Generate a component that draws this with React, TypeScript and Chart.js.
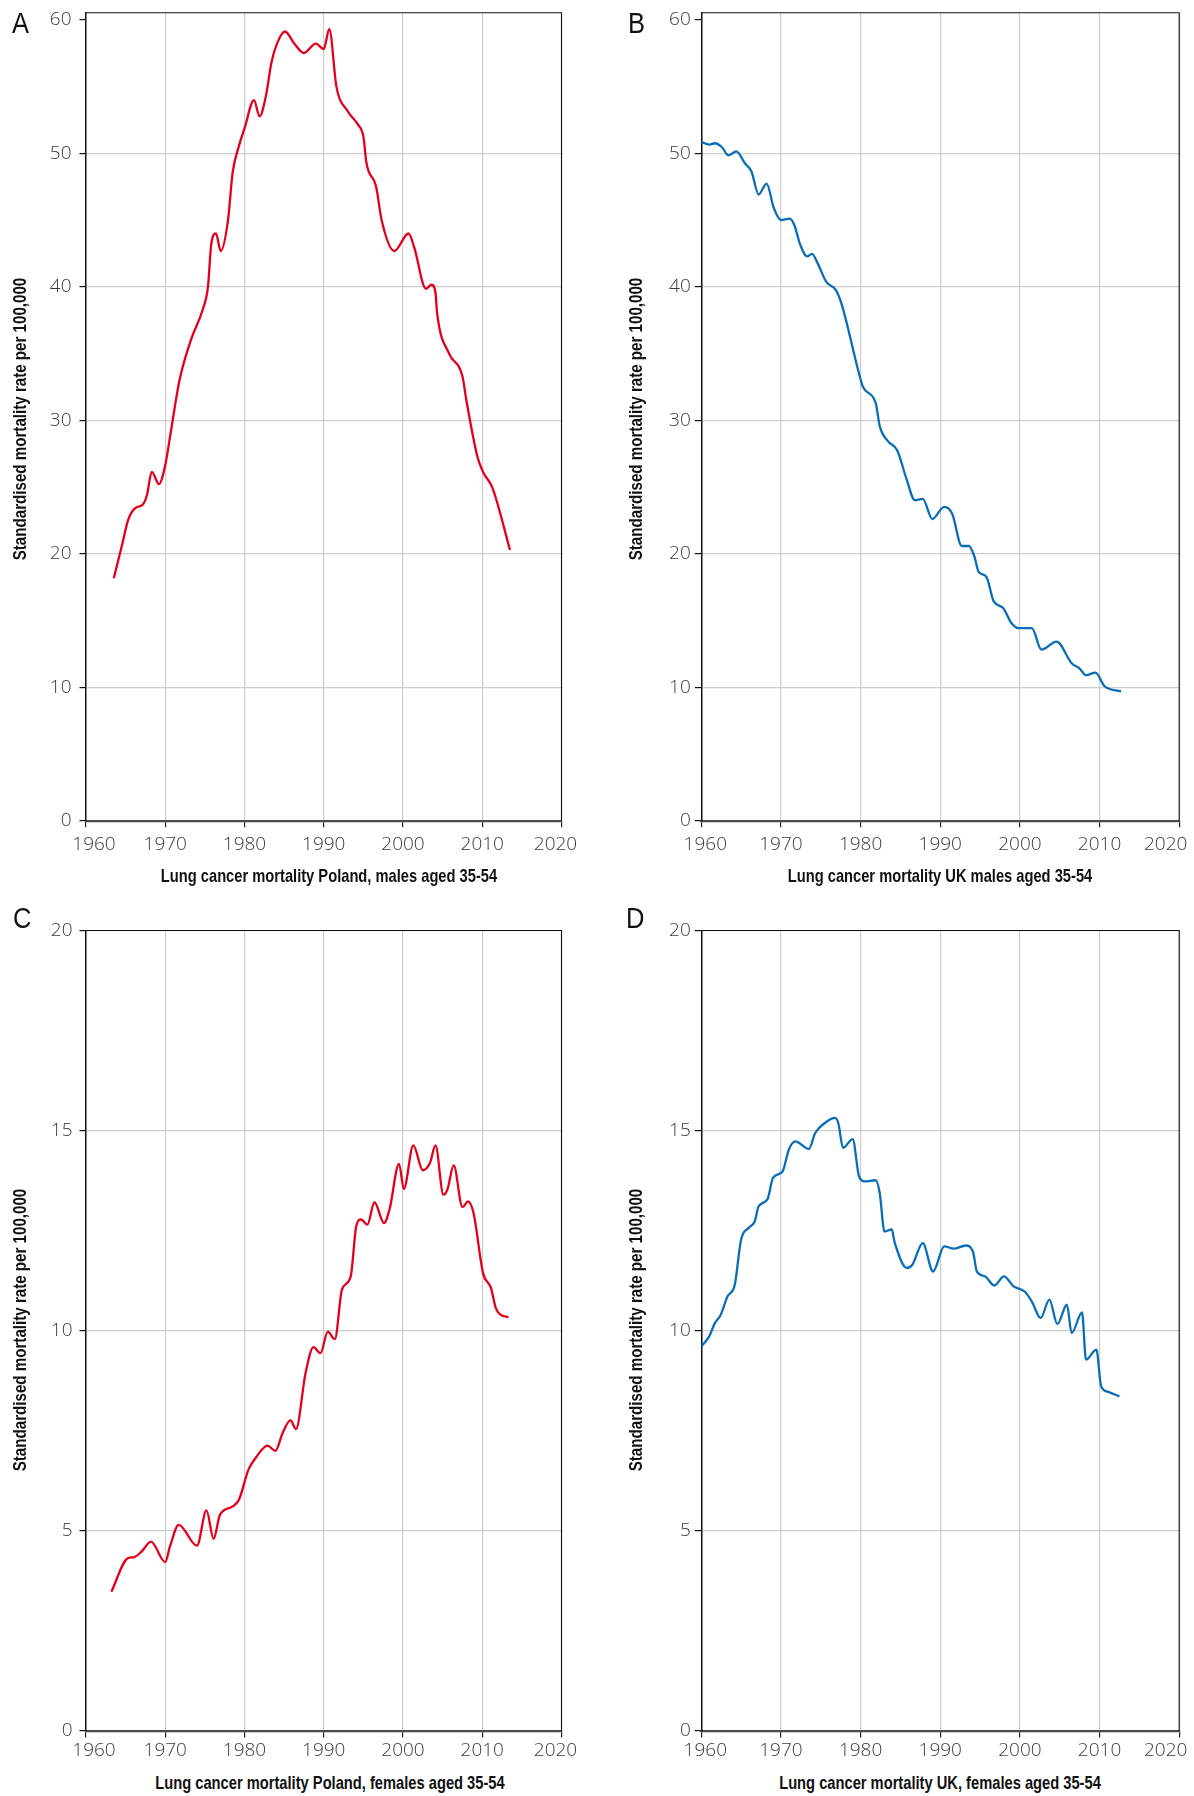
import React, { useEffect, useRef } from 'react';
import { Chart, registerables } from 'chart.js';

Chart.register(...registerables);

// ---------- Data ----------
// A: Lung cancer mortality Poland, males aged 35-54
const yearsPLm = [1963.5, 1964.6, 1965.3, 1966.2, 1967.2, 1967.7, 1968.3, 1969.2, 1970.0, 1970.6, 1971.8, 1973.3, 1974.7, 1975.4, 1975.8, 1976.4, 1977.0, 1977.9, 1978.5, 1979.3, 1980.0, 1981.2, 1981.9, 1982.7, 1983.4, 1984.1, 1985.1, 1986.3, 1987.5, 1989.0, 1990.0, 1990.7, 1991.6, 1993.0, 1994.3, 1995.0, 1995.4, 1996.6, 1997.3, 1998.9, 2000.7, 2001.4, 2002.9, 2003.6, 2004.1, 2004.3, 2005.8, 2007.5, 2008.0, 2009.4, 2010.1, 2011.3, 2013.5];
const ratesPLm = [18.16, 20.78, 22.5, 23.41, 23.71, 24.42, 26.13, 25.22, 26.63, 28.75, 32.99, 36.12, 38.24, 40.05, 43.18, 43.99, 42.68, 44.9, 48.53, 50.55, 51.86, 53.98, 52.77, 54.28, 56.8, 58.21, 59.12, 58.21, 57.51, 58.21, 57.81, 59.32, 54.99, 53.17, 52.16, 51.25, 49.23, 47.52, 45.0, 42.68, 43.99, 42.98, 39.85, 40.15, 39.55, 38.04, 35.01, 33.29, 31.48, 27.24, 26.13, 24.92, 20.28];

// B: Lung cancer mortality UK males aged 35-54
const yearsUKm = [1960.0, 1961.0, 1961.7, 1962.6, 1963.4, 1964.4, 1965.5, 1966.3, 1967.2, 1968.2, 1969.1, 1970.0, 1971.1, 1971.7, 1972.4, 1973.3, 1973.9, 1974.6, 1975.7, 1976.9, 1977.6, 1979.8, 1980.3, 1981.9, 1982.4, 1983.4, 1984.6, 1985.8, 1986.8, 1987.8, 1989.0, 1990.5, 1991.5, 1992.7, 1993.6, 1994.3, 1994.8, 1995.8, 1996.7, 1997.9, 1998.9, 1999.8, 2001.5, 2002.7, 2004.6, 2006.5, 2007.5, 2008.3, 2009.5, 2010.6, 2012.7];
const ratesUKm = [50.85, 50.65, 50.75, 50.45, 49.84, 50.14, 49.23, 48.63, 46.91, 47.72, 45.9, 45.0, 45.1, 44.59, 43.18, 42.27, 42.47, 41.77, 40.36, 39.75, 38.74, 33.5, 32.49, 31.28, 29.56, 28.45, 27.74, 25.53, 24.01, 24.11, 22.6, 23.51, 23.0, 20.58, 20.58, 19.77, 18.66, 18.26, 16.45, 15.94, 14.83, 14.43, 14.43, 12.81, 13.42, 11.8, 11.4, 10.9, 11.1, 10.09, 9.69];

// C: Lung cancer mortality Poland, females aged 35-54
const yearsPLf = [1963.2, 1965.3, 1966.0, 1967.0, 1968.2, 1970.0, 1970.6, 1971.7, 1974.0, 1975.2, 1976.1, 1976.9, 1978.5, 1979.3, 1980.5, 1981.4, 1982.9, 1983.9, 1984.8, 1985.8, 1986.5, 1987.7, 1988.7, 1989.6, 1990.5, 1991.4, 1992.3, 1993.4, 1994.1, 1994.7, 1995.5, 1996.4, 1997.6, 1998.3, 1999.5, 2000.1, 2001.3, 2002.5, 2003.4, 2004.1, 2005.1, 2005.6, 2006.4, 2007.5, 2008.2, 2008.9, 2010.1, 2011.1, 2011.7, 2012.3, 2013.3];
const ratesPLf = [3.48, 4.32, 4.34, 4.48, 4.73, 4.22, 4.61, 5.15, 4.63, 5.51, 4.8, 5.4, 5.61, 5.78, 6.53, 6.82, 7.13, 7.0, 7.44, 7.76, 7.54, 8.94, 9.59, 9.44, 9.98, 9.79, 11.03, 11.36, 12.61, 12.78, 12.65, 13.21, 12.69, 13.03, 14.17, 13.54, 14.63, 14.01, 14.19, 14.63, 13.4, 13.53, 14.13, 13.09, 13.23, 12.94, 11.44, 11.07, 10.57, 10.4, 10.34];

// D: Lung cancer mortality UK, females aged 35-54
const yearsUKf = [1960.0, 1961.0, 1961.7, 1962.4, 1963.3, 1964.2, 1965.0, 1966.0, 1966.7, 1967.2, 1968.3, 1969.0, 1970.2, 1971.0, 1971.8, 1973.5, 1974.3, 1975.5, 1976.8, 1977.2, 1977.8, 1979.0, 1979.8, 1980.5, 1981.9, 1982.4, 1983.0, 1983.9, 1984.3, 1985.8, 1986.5, 1987.8, 1989.1, 1990.5, 1991.7, 1993.2, 1994.1, 1994.6, 1995.6, 1996.8, 1998.0, 1999.2, 2000.6, 2001.5, 2002.6, 2003.7, 2004.7, 2005.9, 2006.5, 2007.8, 2008.3, 2009.6, 2010.2, 2011.0, 2012.5];
const ratesUKf = [9.61, 9.86, 10.19, 10.38, 10.86, 11.15, 12.28, 12.58, 12.73, 13.11, 13.28, 13.82, 13.98, 14.53, 14.73, 14.54, 14.94, 15.19, 15.32, 15.19, 14.57, 14.79, 13.86, 13.73, 13.76, 13.44, 12.48, 12.53, 12.19, 11.57, 11.65, 12.19, 11.48, 12.11, 12.05, 12.13, 11.98, 11.48, 11.36, 11.13, 11.36, 11.11, 10.98, 10.73, 10.32, 10.78, 10.17, 10.65, 9.94, 10.46, 9.28, 9.53, 8.61, 8.48, 8.36];

// Tick values
const xTickValues = [1960, 1970, 1980, 1990, 2000, 2010, 2020];
const yTickValuesMales = [0, 10, 20, 30, 40, 50, 60];
const yTickValuesFemales = [0, 5, 10, 15, 20];

const panelLetters = ['A', 'B', 'C', 'D'];
const xTitles = [
  'Lung cancer mortality Poland, males aged 35-54',
  'Lung cancer mortality UK males aged 35-54',
  'Lung cancer mortality Poland, females aged 35-54',
  'Lung cancer mortality UK, females aged 35-54',
];
const yTitle = 'Standardised mortality rate per 100,000';

// ---------- Styles ----------
const RED = '#e3001b';
const BLUE = '#0a6db7';
const TICK_FONT = "'Open Sans', 'Liberation Sans', sans-serif";
const TITLE_FONT = "'Liberation Sans', Arial, sans-serif";

const framePlugin = {
  id: 'frame',
  beforeDatasetsDraw(chart: any) {
    const { ctx, chartArea } = chart;
    const { left, top, right, bottom } = chartArea;
    ctx.save();
    ctx.strokeStyle = '#111';
    ctx.lineWidth = 1.1;
    ctx.beginPath();
    ctx.moveTo(left, top);
    ctx.lineTo(right, top);
    ctx.lineTo(right, bottom);
    ctx.stroke();
    ctx.restore();
  },
};

// nudges the outermost x tick labels the way the original figure places them
const labelNudgePlugin = {
  id: 'labelNudge',
  beforeDraw(chart: any, _args: any, opts: any) {
    const xItems = chart.scales.x.getLabelItems();
    if (xItems.length) {
      xItems[0].options.translation[0] += opts.firstX || 0;
      xItems[xItems.length - 1].options.translation[0] += opts.lastX || 0;
    }
  },
};

type Area = { left: number; top: number; right: number; bottom: number };
type PanelCfg = {
  left: number;
  top: number;
  width: number;
  height: number;
  area: Area; // relative to the canvas
  years: number[];
  values: number[];
  color: string;
  yTicks: number[];
  yMax: number;
  hideTopGrid: boolean;
  yLabelPad: number;
  xLabelPad: number;
  nudge: { firstX: number; lastX: number };
};

function Panel({ cfg }: { cfg: PanelCfg }) {
  const ref = useRef<HTMLCanvasElement>(null);
  useEffect(() => {
    const canvas = ref.current;
    if (!canvas) return;
    const { area, width, height } = cfg;
    const topTick = cfg.yTicks[cfg.yTicks.length - 1];
    const chart = new Chart(canvas, {
      type: 'line',
      data: {
        datasets: [
          {
            data: cfg.years.map((x, i) => ({ x, y: cfg.values[i] })),
            borderColor: cfg.color,
            borderWidth: 2.3,
            pointRadius: 0,
            cubicInterpolationMode: 'monotone',
            fill: false,
          },
        ],
      },
      options: {
        animation: false,
        responsive: false,
        devicePixelRatio: 1,
        layout: { padding: { left: 0, top: area.top, right: width - area.right, bottom: 0 } },
        plugins: {
          legend: { display: false },
          tooltip: { enabled: false },
          labelNudge: cfg.nudge,
        },
        scales: {
          x: {
            type: 'linear',
            min: xTickValues[0],
            max: xTickValues[xTickValues.length - 1],
            afterFit: (s: any) => {
              s.height = height - area.bottom;
              s.paddingLeft = 0;
              s.paddingRight = 0;
            },
            afterBuildTicks: (s: any) => {
              s.ticks = xTickValues.map((v) => ({ value: v }));
            },
            ticks: {
              callback: (v: any) => String(v),
              autoSkip: false,
              maxRotation: 0,
              font: { family: TICK_FONT, size: 19, weight: '300' },
              color: '#3a3a3a',
              padding: cfg.xLabelPad,
            },
            grid: {
              color: (c: any) => (c.tick && c.tick.value === xTickValues[0] ? 'rgba(0,0,0,0)' : '#cdcdcd'),
              lineWidth: 1.2,
              tickColor: '#222',
              tickLength: 6.5,
            },
            border: { color: '#4a4a4a', width: 2.2 },
          },
          y: {
            type: 'linear',
            min: 0,
            max: cfg.yMax,
            afterFit: (s: any) => {
              s.width = area.left;
              s.paddingTop = 0;
              s.paddingBottom = 0;
            },
            afterBuildTicks: (s: any) => {
              s.ticks = cfg.yTicks.map((v) => ({ value: v }));
            },
            ticks: {
              callback: (v: any) => String(v),
              font: { family: TICK_FONT, size: 19, weight: '300' },
              color: '#3a3a3a',
              padding: cfg.yLabelPad,
            },
            grid: {
              color: (c: any) =>
                c.tick && (c.tick.value === 0 || (cfg.hideTopGrid && c.tick.value === topTick))
                  ? 'rgba(0,0,0,0)'
                  : '#cdcdcd',
              lineWidth: 1.2,
              tickColor: '#111',
              tickLength: 6.5,
            },
            border: { color: '#111', width: 1.5 },
          },
        },
      },
      plugins: [framePlugin, labelNudgePlugin],
    } as any);
    return () => chart.destroy();
  }, [cfg]);
  return (
    <canvas
      ref={ref}
      width={cfg.width}
      height={cfg.height}
      style={{ position: 'absolute', left: cfg.left, top: cfg.top, width: cfg.width, height: cfg.height }}
    />
  );
}

const panels: PanelCfg[] = [
  {
    left: 0, top: 0, width: 597, height: 870,
    area: { left: 86, top: 12.7, right: 561.5, bottom: 820.7 },
    years: yearsPLm, values: ratesPLm, color: RED, yTicks: yTickValuesMales, yMax: 60.53, hideTopGrid: true,
    yLabelPad: 8, xLabelPad: 6.3, nudge: { firstX: 8, lastX: -6 },
  },
  {
    left: 597, top: 0, width: 597, height: 870,
    area: { left: 104.3, top: 12.7, right: 582.2, bottom: 820.7 },
    years: yearsUKm, values: ratesUKm, color: BLUE, yTicks: yTickValuesMales, yMax: 60.53, hideTopGrid: true,
    yLabelPad: 4, xLabelPad: 6.3, nudge: { firstX: 4, lastX: -13.5 },
  },
  {
    left: 0, top: 880, width: 597, height: 890,
    area: { left: 86, top: 50.5, right: 561.5, bottom: 851 },
    years: yearsPLf, values: ratesPLf, color: RED, yTicks: yTickValuesFemales, yMax: 20, hideTopGrid: false,
    yLabelPad: 7, xLabelPad: 1.8, nudge: { firstX: 8, lastX: -6 },
  },
  {
    left: 597, top: 880, width: 597, height: 890,
    area: { left: 104.3, top: 50.5, right: 582.2, bottom: 851 },
    years: yearsUKf, values: ratesUKf, color: BLUE, yTicks: yTickValuesFemales, yMax: 20, hideTopGrid: false,
    yLabelPad: 4, xLabelPad: 1.8, nudge: { firstX: 4, lastX: -13.5 },
  },
];

// page positions of the surrounding text
const letterPos = [
  { left: 11.5, top: 7.8 },
  { left: 627.6, top: 7.8 },
  { left: 12.5, top: 903 },
  { left: 626, top: 903 },
];
const xTitlePos = [
  { cx: 329.1, cy: 875.5 },
  { cx: 940, cy: 875.5 },
  { cx: 329.7, cy: 1783 },
  { cx: 939.8, cy: 1783 },
];
const yTitlePos = [
  { cx: 20.8, cy: 419 },
  { cx: 636.6, cy: 419 },
  { cx: 20.8, cy: 1330 },
  { cx: 636.6, cy: 1330 },
];

export default function App() {
  return (
    <div
      style={{
        position: 'absolute',
        left: 0,
        top: 0,
        width: 1194,
        height: 1796,
        background: '#fff',
        overflow: 'hidden',
      }}
    >
      {panels.map((p, i) => (
        <Panel key={i} cfg={p} />
      ))}
      {panelLetters.map((l, i) => (
        <div
          key={'l' + i}
          style={{
            position: 'absolute',
            left: letterPos[i].left,
            top: letterPos[i].top,
            fontFamily: TITLE_FONT,
            fontSize: 30,
            lineHeight: 1,
            color: '#111',
            transformOrigin: 'left top',
            transform: 'scaleX(0.85)',
          }}
        >
          {l}
        </div>
      ))}
      {xTitles.map((t, i) => (
        <div
          key={'x' + i}
          style={{
            position: 'absolute',
            left: xTitlePos[i].cx,
            top: xTitlePos[i].cy,
            fontFamily: TITLE_FONT,
            fontWeight: 'bold',
            fontSize: 18.6,
            lineHeight: 1,
            whiteSpace: 'nowrap',
            color: '#111',
            transform: 'translate(-50%, -50%) scaleX(0.79)',
          }}
        >
          {t}
        </div>
      ))}
      {yTitlePos.map((p, i) => (
        <div
          key={'y' + i}
          style={{
            position: 'absolute',
            left: p.cx,
            top: p.cy,
            fontFamily: TITLE_FONT,
            fontWeight: 'bold',
            fontSize: 17.6,
            lineHeight: 1,
            whiteSpace: 'nowrap',
            color: '#111',
            transform: 'translate(-50%, -50%) rotate(-90deg) scaleX(0.86)',
          }}
        >
          {yTitle}
        </div>
      ))}
    </div>
  );
}
